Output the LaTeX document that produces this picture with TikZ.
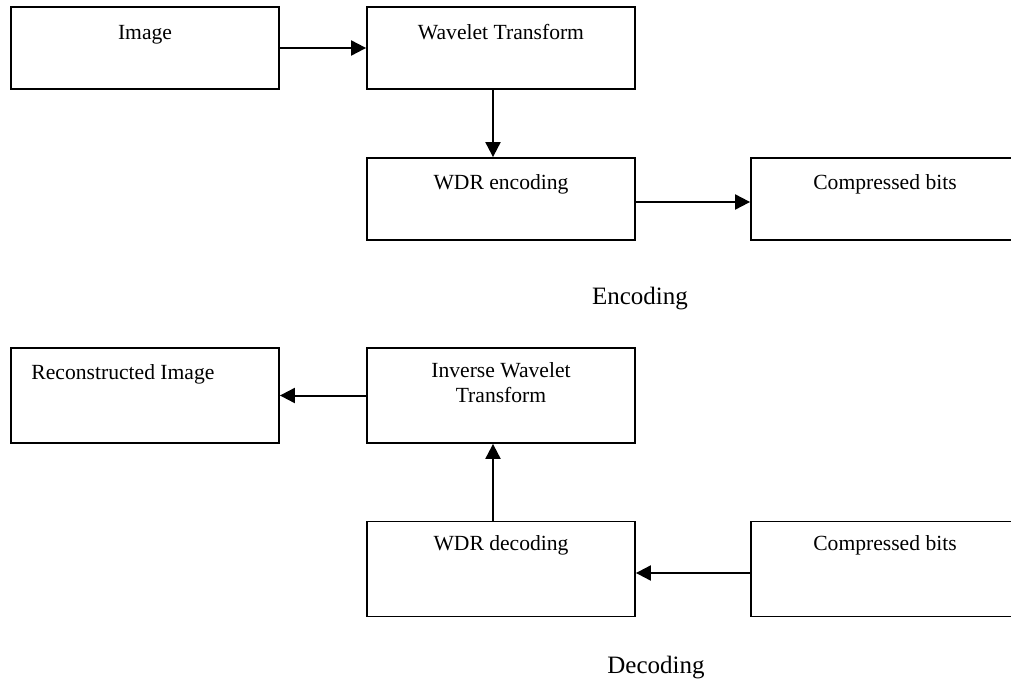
\documentclass[tikz,border=0pt]{standalone}
\usepackage{fontspec}
\setmainfont{Liberation Serif}
\usetikzlibrary{positioning,
  calc,
  arrows.meta
}
\tikzset{
  blk/.style={draw, line width=0.9pt, minimum width=134pt, minimum height=41pt, inner sep=0pt},
  tallblk/.style={blk, minimum height=47.5pt},
  txt/.style={font=\fontsize{10.8}{12.5}\selectfont, anchor=base, inner sep=0pt},
  stagelbl/.style={font=\fontsize{12.5}{15}\selectfont},
  flow/.style={-{Triangle[length=7.5pt,width=7.5pt]}, line width=1pt}
}

\begin{document}
\begin{tikzpicture}[x=0.5pt, y=-0.5pt]
  \useasboundingbox (0,0) rectangle (1011,684);
  \clip (0,0) rectangle (1011,684);

  % encoding
  \node[blk] (img) at (145,48) {};
  \node[blk] (wt) at (501,48) {};
  \node[blk] (wdrenc) at (501,199) {};
  \node[blk] (bitsenc) at (885,199) {};

  \node[txt] (imgtxt) at ([yshift=-16.5pt]img.north) {Image};
  \node[txt] (wttxt) at ([yshift=-16.5pt]wt.north) {Wavelet Transform};
  \node[txt] (wdrenctxt) at ([yshift=-16pt]wdrenc.north) {WDR encoding};
  \node[txt] (bitsenctxt) at ([yshift=-16pt]bitsenc.north) {Compressed bits};

  \node[stagelbl] (enclbl) at (640,299) {Encoding};

  \draw[flow] (img.east) -- (wt.west);
  \draw[flow] ([xshift=-4pt]wt.south) -- ([xshift=-4pt]wdrenc.north);
  \draw[flow] ([yshift=-1.5pt]wdrenc.east) -- ([yshift=-1.5pt]bitsenc.west);

  % decoding
  \node[tallblk] (rec) at (145,395.5) {};
  \node[tallblk] (iwt) at (501,395.5) {};
  \node[tallblk] (wdrdec) at (501,569) {};
  \node[tallblk] (bitsdec) at (885,569) {};

  \node[txt, anchor=base west] (rectxt) at ([xshift=10.5pt,yshift=-16pt]rec.north west) {Reconstructed Image};
  \node[txt, anchor=north, align=center, yshift=8.5pt] (iwttxt) at ([yshift=-16pt]iwt.north) {Inverse Wavelet\\Transform};
  \node[txt] (wdrdectxt) at ([yshift=-15pt]wdrdec.north) {WDR decoding};
  \node[txt] (bitsdectxt) at ([yshift=-15pt]bitsdec.north) {Compressed bits};

  \node[stagelbl] (declbl) at (656,668) {Decoding};

  \draw[flow] (iwt.west) -- (rec.east);
  \draw[flow] ([xshift=-4pt]wdrdec.north) -- ([xshift=-4pt]iwt.south);
  \draw[flow] ([yshift=-2pt]bitsdec.west) -- ([yshift=-2pt]wdrdec.east);
\end{tikzpicture}
\end{document}
